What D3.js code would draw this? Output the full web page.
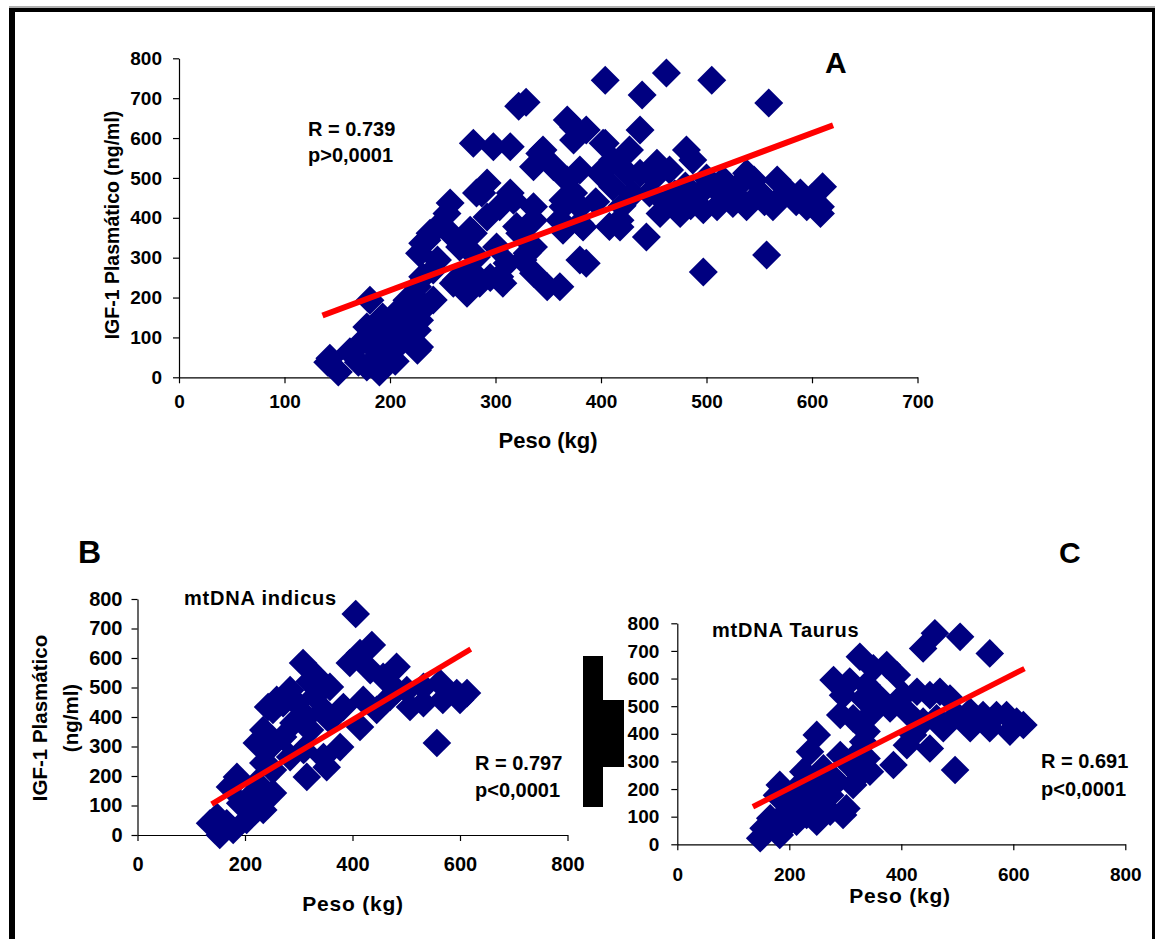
<!DOCTYPE html>
<html><head><meta charset="utf-8">
<script src="https://cdn.jsdelivr.net/npm/d3@7"></script>
<style>
body{margin:0;background:#fff}
svg{display:block}
text{font-family:"Liberation Sans",Arial,Helvetica,sans-serif;font-weight:bold;fill:#000}
</style>
</head><body>
<svg id="chart" width="1155" height="939"></svg>
<script>
// ---------- DATA ----------
const pesoTicksA = [0,100,200,300,400,500,600,700];
const pesoTicksBC = [0,200,400,600,800];
const igfTicks = [0,100,200,300,400,500,600,700,800];

// [Peso (kg), IGF-1 (ng/ml)]
const pointsA = [
[141,38],[151,13],[162,64],[170,38],[181,193],[178,126],[187,68],[190,13],[197,136],[206,161],[210,86],[219,101],[226,68],[216,193],[228,143],[231,336],[238,361],[231,252],[200,61],[178,26],[143,48],[228,76],
[193,151],[209,93],[226,118],[233,176],[228,311],[235,344],[241,269],[254,411],[257,437],[245,377],[269,344],[276,369],[282,462],[279,587],[273,261],[260,236],[292,487],[226,227],[241,194],
[200,100],[190,90],[215,130],[205,40],[170,80],[185,40],[222,160],
[245,294],[257,361],[266,327],[263,244],[273,211],[279,261],[282,302],[279,361],[287,462],[292,402],[304,428],[314,462],[301,327],[311,286],[304,252],[323,361],[326,294],[336,261],[349,227],[336,327],[298,578],[314,578],[322,680],[329,690],[342,561],[355,528],[336,528],[368,645],[364,428],[336,428],[320,378],
[345,570],[386,620],[374,595],[402,587],[437,620],[481,570],[317,444],[336,394],[361,394],[364,369],[383,377],[418,377],[443,352],[380,294],[386,286],[307,236],[330,311],[285,236],[295,250],
[374,628],[404,587],[427,570],[411,545],[399,512],[380,520],[368,495],[364,444],[380,428],[380,386],[374,462],[411,478],[418,394],[408,378],[425,512],[437,512],[453,537],[465,520],[487,545],[446,462],[462,436],[475,411],[456,411],[361,227],[494,462],[497,420],[510,428],[516,495],[529,478],[538,512],[525,436],[538,428],[551,462],[567,495],[563,428],[579,462],[589,462],[595,428],[610,478],[608,428],[608,411],[497,264],[557,307],
[520,460],[545,495],[500,500],[480,480],[470,460],[555,440],[585,440],[600,450],[485,430],[530,450],[570,450],[510,470],[450,500],[430,460],[395,440],[420,430],
[404,745],[462,763],[505,745],[439,708],[559,688]
];
const pointsB = [
[406,749],[436,644],[414,617],[395,583],[482,570],[433,559],[457,536],[308,583],[333,536],[358,502],[284,491],[271,447],[252,424],[296,447],[315,400],[346,424],[383,434],[420,458],[445,424],[470,468],[501,491],[532,502],[563,515],[532,447],[507,434],[568,458],[594,481],[613,481],[600,458],[557,312],[482,491],[414,366],[377,298],[358,390],[234,356],[222,312],[247,298],[271,332],[284,264],[309,288],[321,356],[346,264],[315,197],[352,230],[252,220],[234,244],[222,176],[185,197],[172,163],[209,129],[252,142],[234,85],[191,108],[148,61],[135,40],[153,0],[178,17],[166,40],[203,51],[243,434],[259,458],[320,520],[290,380],[330,470]
];
const pointsC = [
[460,764],[439,709],[505,751],[558,691],[326,679],[374,649],[350,637],[392,613],[279,595],[308,589],[338,577],[296,540],[332,528],[362,528],[404,540],[428,552],[451,540],[469,552],[487,528],[291,468],[314,456],[350,480],[380,492],[416,468],[439,444],[463,456],[499,468],[523,480],[546,468],[570,468],[588,468],[606,444],[618,432],[523,420],[558,420],[594,408],[475,420],[421,396],[451,347],[410,359],[386,287],[496,269],[338,408],[332,371],[249,396],[237,335],[291,323],[320,323],[308,287],[338,311],[344,263],[261,275],[225,263],[249,227],[285,227],[314,215],[326,251],[213,203],[183,215],[178,178],[201,154],[231,178],[273,178],[302,130],[296,106],[273,118],[249,82],[231,106],[213,82],[189,106],[166,94],[154,58],[148,22],[183,34],[201,82],[243,154],[261,215],[213,142]
];
// regression lines [start, end]
const trendA = [[136,155],[620,632]];
const trendB = [[138,105],[620,630]];
const trendC = [[135,136],[620,636]];

const statsA = ["R = 0.739","p>0,0001"];
const statsB = ["R = 0.797","p<0,0001"];
const statsC = ["R = 0.691","p<0,0001"];

// ---------- DRAW ----------
const svg = d3.select("#chart");
const navy = "#000080", red = "#ff0000";

// frame
svg.append("rect").attr("x",9).attr("y",6).attr("width",1146).attr("height",2).attr("fill","#b0b0b0");
svg.append("rect").attr("x",9).attr("y",8).attr("width",1146).attr("height",4).attr("fill","#000");
svg.append("rect").attr("x",9).attr("y",8).attr("width",6).attr("height",931).attr("fill","#000");
svg.append("rect").attr("x",1152).attr("y",8).attr("width",3).attr("height",931).attr("fill","#000");
// stray black blocks between B and C
svg.append("rect").attr("x",583).attr("y",656).attr("width",20).attr("height",151).attr("fill","#000");
svg.append("rect").attr("x",603).attr("y",700).attr("width",21).attr("height",67).attr("fill","#000");

function diamond(h){ return `M0,${-h}L${h},0L0,${h}L${-h},0Z`; }

function panel(o){
  const x = d3.scaleLinear().domain(o.xDom).range(o.xRange);
  const y = d3.scaleLinear().domain([0,800]).range(o.yRange);
  const g = svg.append("g");

  const ya = g.append("g").attr("transform",`translate(${o.xRange[0]},0)`)
    .call(d3.axisLeft(y).tickValues(igfTicks).tickSize(6).tickPadding(o.yPad).tickSizeOuter(0));
  const xa = g.append("g").attr("transform",`translate(0,${o.yRange[0]})`)
    .call(d3.axisBottom(x).tickValues(o.xTicks).tickSize(6).tickPadding(o.xPad).tickSizeOuter(0));
  [ya,xa].forEach(a=>{
    a.select(".domain").attr("stroke","#000").attr("stroke-width",1.2);
    a.selectAll(".tick line").attr("stroke","#000").attr("stroke-width",1.2);
    a.selectAll(".tick text").attr("font-size",o.tickFont).attr("font-family",'"Liberation Sans",Arial,sans-serif').attr("font-weight","bold").attr("fill","#000");
  });

  g.append("g").selectAll("path").data(o.points).join("path")
    .attr("d",diamond(o.mk))
    .attr("transform",d=>`translate(${x(d[0])},${y(d[1])})`)
    .attr("fill",navy);

  g.append("line")
    .attr("x1",x(o.trend[0][0])).attr("y1",y(o.trend[0][1]))
    .attr("x2",x(o.trend[1][0])).attr("y2",y(o.trend[1][1]))
    .attr("stroke",red).attr("stroke-width",o.lw);
  return {x,y,g};
}

const A = panel({xDom:[0,700], xRange:[179,917.5], yRange:[377.3,58.3], xTicks:pesoTicksA,
  yPad:11, xPad:11, tickFont:19, points:pointsA, trend:trendA, mk:14.5, lw:6});
const B = panel({xDom:[0,800], xRange:[137.5,567.5], yRange:[835,599], xTicks:pesoTicksBC,
  yPad:9, xPad:16, tickFont:20, points:pointsB, trend:trendB, mk:14.3, lw:5.5});
const C = panel({xDom:[0,800], xRange:[677.3,1125.3], yRange:[844.3,623.3], xTicks:pesoTicksBC,
  yPad:12, xPad:17, tickFont:19, points:pointsC, trend:trendC, mk:14.3, lw:5.5});

function txt(x,y,s,size,anchor,rot){
  const t = svg.append("text").attr("font-size",size).attr("text-anchor",anchor||"start").text(s);
  if(rot){ t.attr("transform",`translate(${x},${y}) rotate(-90)`); }
  else { t.attr("x",x).attr("y",y); }
  return t;
}
// Panel A text
txt(825,73,"A",30);
txt(308,136,statsA[0],20);
txt(308,162,statsA[1],20);
txt(119,225,"IGF-1 Plasmático (ng/ml)",19.5,"middle",true);
txt(548,448,"Peso (kg)",22,"middle");
// Panel B text
txt(78,563,"B",32);
txt(184,605,"mtDNA indicus",20).attr("letter-spacing",0.8);
txt(475,770,statsB[0],20);
txt(475,797,statsB[1],20);
txt(47,718,"IGF-1 Plasmático",20.5,"middle",true);
txt(78,718,"(ng/ml)",20.5,"middle",true);
txt(353,911,"Peso (kg)",21,"middle").attr("letter-spacing",0.8);
// Panel C text
txt(1059,563,"C",30);
txt(712,637,"mtDNA Taurus",20).attr("letter-spacing",0.8);
txt(1041,768,statsC[0],20);
txt(1041,796,statsC[1],20);
txt(900,903,"Peso (kg)",21,"middle").attr("letter-spacing",0.8);
</script>
</body></html>
